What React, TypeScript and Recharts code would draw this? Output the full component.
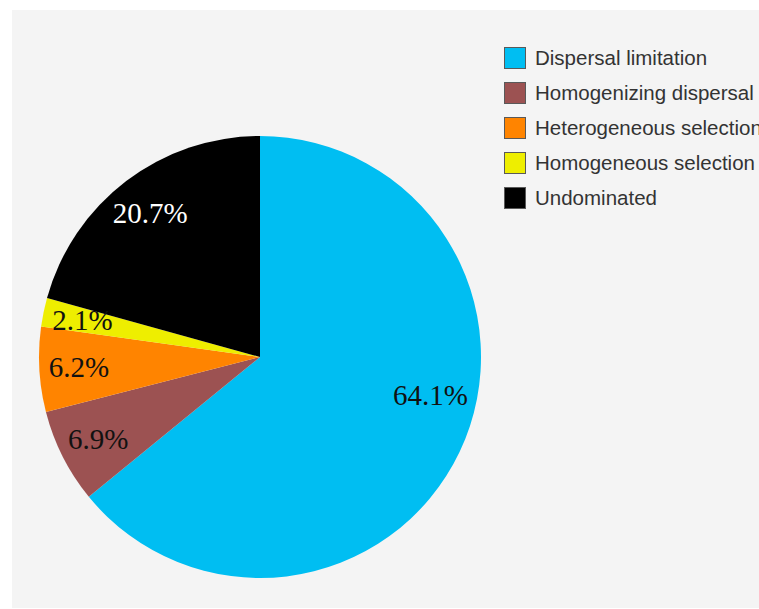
import React from 'react';
import { PieChart, Pie, Cell, Legend } from 'recharts';

const categories = [
  'Dispersal limitation',
  'Homogenizing dispersal',
  'Heterogeneous selection',
  'Homogeneous selection',
  'Undominated',
];
const shares = [64.1, 6.9, 6.2, 2.1, 20.7];

const COLORS = ['#00BEF2', '#9C5252', '#FF8400', '#EEEE00', '#000000'];
const LABEL_COLORS = ['#111', '#111', '#111', '#111', '#fff'];
// the big slice's label sits a little higher than its mid-angle
const LABEL_ANGLE_SHIFT = [12.9, 0, 0, 0, 0];

const RADIAN = Math.PI / 180;

const data = categories.map((name, i) => ({ name, value: shares[i] }));

const renderLabel = (props: any) => {
  const { cx, cy, midAngle, outerRadius, index, value } = props;
  const angle = midAngle + LABEL_ANGLE_SHIFT[index];
  const r = outerRadius * (index === 0 ? 0.79 : 0.82);
  const x = cx + r * Math.cos(-angle * RADIAN);
  const y = cy + r * Math.sin(-angle * RADIAN);
  return (
    <text
      x={x}
      y={y}
      fill={LABEL_COLORS[index]}
      textAnchor="middle"
      dominantBaseline="central"
      fontFamily='"Liberation Serif", "Times New Roman", serif'
      fontSize={29}
    >
      {`${value.toFixed(1)}%`}
    </text>
  );
};

// keep legend rows in data order rather than recharts' sorted order
const renderLegend = (props: any) => {
  const payload = [...(props.payload || [])].sort(
    (a: any, b: any) => categories.indexOf(a.value) - categories.indexOf(b.value)
  );
  return (
    <div>
      {payload.map((entry: any, i: number) => (
        <div key={i} style={{ display: 'flex', alignItems: 'center', height: 35, whiteSpace: 'nowrap' }}>
          <span
            style={{
              width: 20,
              height: 20,
              background: entry.color,
              border: '1px solid #595959',
              marginRight: 9,
              flexShrink: 0,
            }}
          />
          <span style={{ fontFamily: '"Liberation Sans", Arial, sans-serif', fontSize: 20.5, color: '#333' }}>
            {entry.value}
          </span>
        </div>
      ))}
    </div>
  );
};

export default function App() {
  return (
    <div style={{ position: 'fixed', left: 0, top: 0, width: 759, height: 609, overflow: 'hidden', background: '#fff' }}>
      <div style={{ position: 'absolute', left: 12, top: 10, width: 747, height: 598, background: '#f4f4f4', overflow: 'hidden' }}>
        <PieChart width={747} height={598} margin={{ top: 0, right: 0, bottom: 0, left: 0 }} style={{ overflow: 'visible' }}>
          <Pie
            data={data}
            dataKey="value"
            nameKey="name"
            cx={248}
            cy={347}
            outerRadius={221}
            startAngle={90}
            endAngle={-270}
            stroke="none"
            label={renderLabel}
            labelLine={false}
            isAnimationActive={false}
          >
            {data.map((d, i) => (
              <Cell key={d.name} fill={COLORS[i]} />
            ))}
          </Pie>
          <Legend
            content={renderLegend}
            wrapperStyle={{ position: 'absolute', left: 492, top: 30, width: 300 }}
          />
        </PieChart>
      </div>
    </div>
  );
}
